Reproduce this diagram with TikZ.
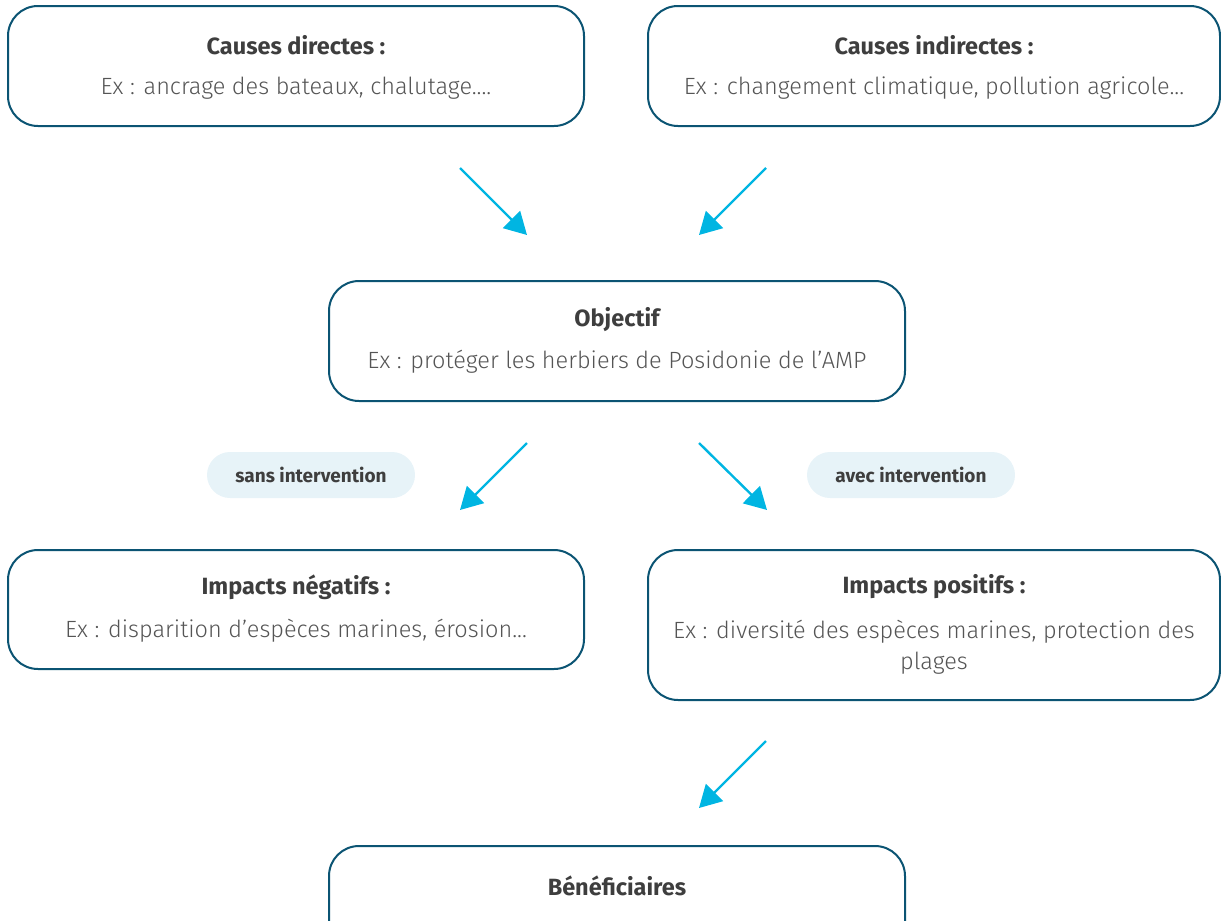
\documentclass[tikz,border=0pt]{standalone}
\usepackage{fontspec}
\setmainfont{Fira Sans}
\newfontfamily\lightfont{Fira Sans Light}
\usetikzlibrary{arrows.meta}
\definecolor{boxline}{HTML}{0B5473}
\definecolor{arrowc}{HTML}{00B5E2}
\definecolor{pillfill}{HTML}{E7F3F8}
\definecolor{titlec}{HTML}{3E3E3E}
\definecolor{bodyc}{HTML}{555555}
\tikzset{
  box/.style={draw=boxline, line width=2pt, rounded corners=30pt, fill=white},
  ttl/.style={font=\fontsize{23.5}{28}\selectfont\bfseries, text=titlec, inner sep=0pt},
  bdy/.style={font=\lightfont\fontsize{23.5}{31}\selectfont, text=bodyc, inner sep=0pt, align=center},
  pill/.style={fill=pillfill, rounded corners=23pt, minimum width=208pt, minimum height=46pt, inner sep=0pt,
    font=\fontsize{19}{22}\selectfont\bfseries, text=titlec},
  arr/.style={draw=arrowc, line width=2.4pt, -{Triangle[length=22pt,width=24pt]}}
}
\begin{document}
\begin{tikzpicture}[x=1pt,y=-1pt]
\useasboundingbox (0,0) rectangle (1221,921);
\begin{scope}
\clip (0,0) rectangle (1221,921);
% boxes
\node[box, minimum width=576pt, minimum height=120pt] (cd) at (296,66) {};
\node[box, minimum width=572pt, minimum height=120pt] (ci) at (934,66) {};
\node[box, minimum width=576pt, minimum height=120pt] (obj) at (617,341) {};
\node[box, minimum width=576pt, minimum height=119pt] (neg) at (296,609.5) {};
\node[box, minimum width=572pt, minimum height=150pt] (pos) at (934,625) {};
\node[box, minimum width=576pt, minimum height=120pt] (ben) at (617,906) {};
\end{scope}
% texts
\node[ttl] (cdt) at (296,45) {Causes directes :};
\node[bdy] (cdb) at (296,88) {Ex : ancrage des bateaux, chalutage....};
\node[ttl] (cit) at (934,45) {Causes indirectes :};
\node[bdy] (cib) at (934,88) {Ex : changement climatique, pollution agricole...};
\node[ttl] (objt) at (617,320) {Objectif};
\node[bdy] (objb) at (617,362) {Ex : protéger les herbiers de Posidonie de l’AMP};
\node[ttl] (negt) at (296,587) {Impacts négatifs :};
\node[bdy] (negb) at (296,631) {Ex : disparition d’espèces marines, érosion...};
\node[ttl] (post) at (934,587) {Impacts positifs :};
\node[bdy] (posb) at (934,647.5) {Ex : diversité des espèces marines, protection des\\plages};
\node[ttl] (bent) at (617,886) {Bénéficiaires};
% pills
\node[pill] (sans) at (311,475) {sans intervention};
\node[pill] (avec) at (911,475) {avec intervention};
% arrow coordinates
\coordinate (a1s) at (460,168); \coordinate (a1e) at (527,235);
\coordinate (a2s) at (766,168); \coordinate (a2e) at (699,235);
\coordinate (a3s) at (527,443); \coordinate (a3e) at (460,510);
\coordinate (a4s) at (699,443); \coordinate (a4e) at (767,510);
\coordinate (a5s) at (766,741); \coordinate (a5e) at (699,808);
\draw[arr] (a1s) -- (a1e);
\draw[arr] (a2s) -- (a2e);
\draw[arr] (a3s) -- (a3e);
\draw[arr] (a4s) -- (a4e);
\draw[arr] (a5s) -- (a5e);
\end{tikzpicture}
\end{document}
